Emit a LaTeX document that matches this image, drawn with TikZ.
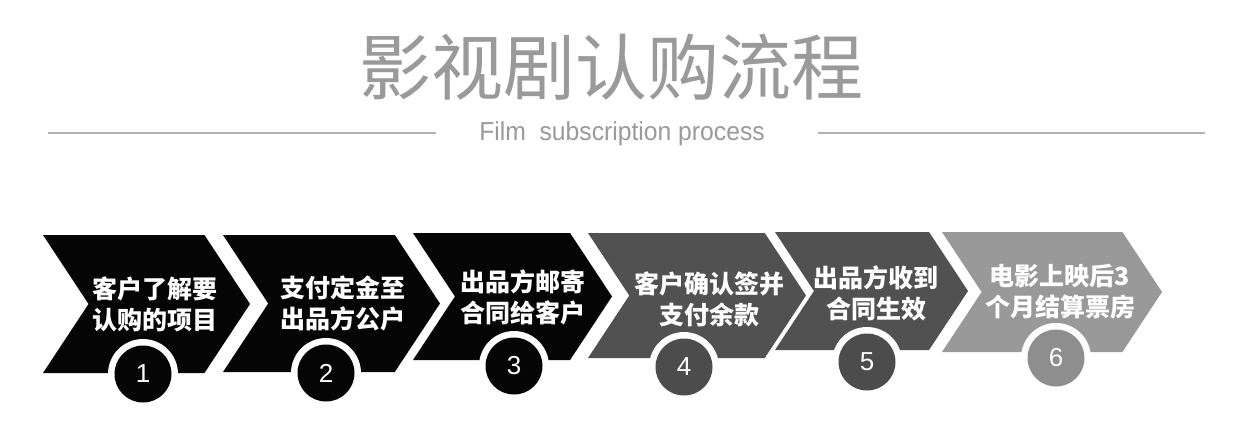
\documentclass[tikz,border=0pt]{standalone}
\usepackage{fontspec}
\setmainfont{Liberation Sans}
\newfontfamily\cjk{Noto Sans CJK SC}
\definecolor{titlegray}{HTML}{9A9A9A}
\definecolor{linegray}{HTML}{B0B0B0}
\definecolor{chevA}{HTML}{050505}
\definecolor{chevB}{HTML}{515151}
\definecolor{chevC}{HTML}{999999}
\definecolor{circB}{HTML}{4C4C4C}
\definecolor{circC}{HTML}{8E8E8E}
\tikzset{
  steptext/.style={text=white, align=center, font=\cjk\bfseries\fontsize{25}{31}\selectfont, inner sep=0pt},
  numtext/.style={text=white, font=\fontsize{26}{26}\selectfont, inner sep=0pt},
  ringdisk/.style={circle, fill=white, minimum size=70pt, inner sep=0pt},
  numdisk/.style={circle, minimum size=57pt, inner sep=0pt},
}
% chevron: #1 left, #2 top, #3 bottom, #4 tip, #5 colour
\newcommand{\chevshape}[5]{%
  \pgfmathsetmacro{\hh}{(#3-#2)/2}%
  \pgfmathsetmacro{\dd}{0.66*\hh}%
  \pgfmathsetmacro{\mm}{(#3+#2)/2}%
  \fill[#5] (#1,#2) -- ({#4-\dd},#2) -- (#4,\mm) -- ({#4-\dd},#3) -- (#1,#3) -- ({#1+\dd},\mm) -- cycle;}
\begin{document}
\begin{tikzpicture}[x=1pt,y=-1pt]
\useasboundingbox (0,0) rectangle (1240,421);
\fill[white] (0,0) rectangle (1240,421);
% title
\node[text=titlegray, font=\cjk\fontsize{72}{72}\selectfont, inner sep=0pt] (title) at (611,67) {影视剧认购流程};
\node[text=titlegray, font=\fontsize{26}{26}\selectfont, inner sep=0pt, xscale=0.95] (subtitle) at (622,134) {Film\ \ subscription process};
\coordinate (la) at (48,133);
\coordinate (lb) at (436,133);
\coordinate (ra) at (818,133);
\coordinate (rb) at (1205,133);
\draw[linegray, line width=1.5pt] (la) -- (lb);
\draw[linegray, line width=1.5pt] (ra) -- (rb);
% chevrons
\chevshape{43}{235}{373}{250}{chevA}
\chevshape{223}{235}{372}{440}{chevA}
\chevshape{413}{233}{360}{612}{chevA}
\chevshape{588}{233}{358}{806}{chevB}
\chevshape{775}{232}{350}{968}{chevB}
\chevshape{942}{232}{352}{1162}{chevC}
% texts
\node[steptext] (t1) at (155,304) {客户了解要\\认购的项目};
\node[steptext] (t2) at (343,303) {支付定金至\\出品方公户};
\node[steptext] (t3) at (523,297) {出品方邮寄\\合同给客户};
\node[steptext] (t4) at (709,299) {客户确认签并\\支付余款};
\node[steptext] (t5) at (876,293) {出品方收到\\合同生效};
\node[steptext] (t6) at (1060,292) {电影上映后3\\个月结算票房};
% circles
\node[ringdisk] (r1) at (143,374) {};
\node[ringdisk] (r2) at (326,373) {};
\node[ringdisk] (r3) at (514,366) {};
\node[ringdisk] (r4) at (684,367) {};
\node[ringdisk] (r5) at (867,362) {};
\node[ringdisk] (r6) at (1056,358) {};
\node[numdisk, fill=chevA] (c1) at (r1) {};
\node[numdisk, fill=chevA] (c2) at (r2) {};
\node[numdisk, fill=chevA] (c3) at (r3) {};
\node[numdisk, fill=circB] (c4) at (r4) {};
\node[numdisk, fill=circB] (c5) at (r5) {};
\node[numdisk, fill=circC] (c6) at (r6) {};
\node[numtext] (n1) at (c1) {1};
\node[numtext] (n2) at (c2) {2};
\node[numtext] (n3) at (c3) {3};
\node[numtext] (n4) at (c4) {4};
\node[numtext] (n5) at (c5) {5};
\node[numtext] (n6) at (c6) {6};
\end{tikzpicture}
\end{document}
